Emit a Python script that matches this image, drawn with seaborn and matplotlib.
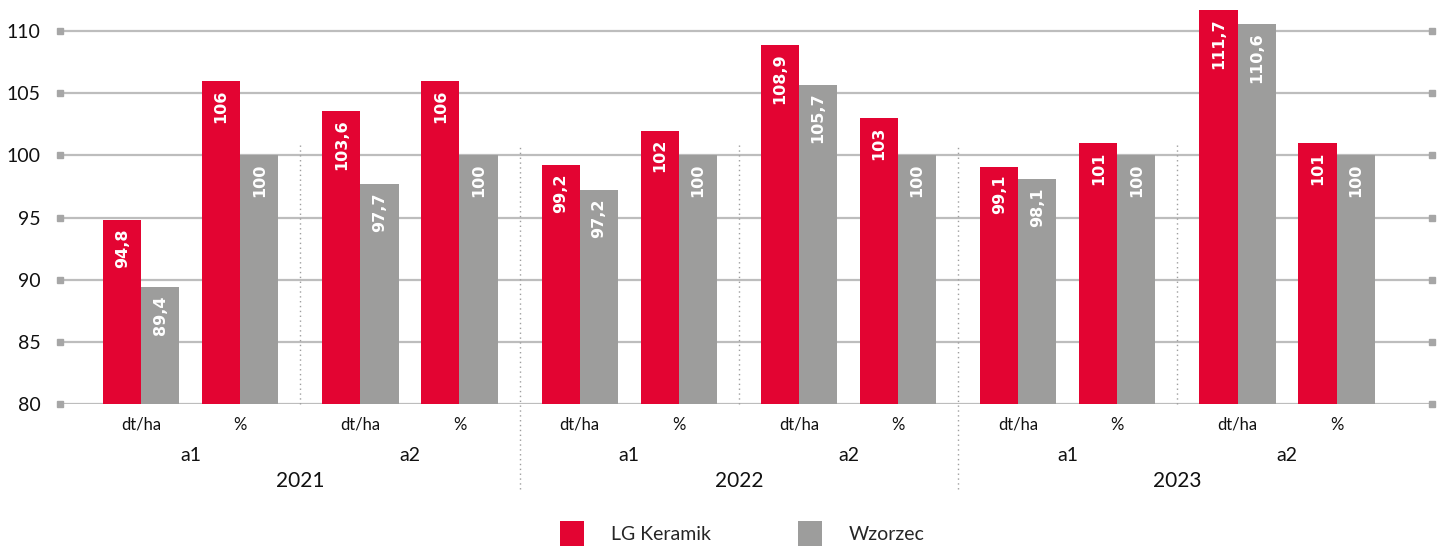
import numpy as np
import pandas as pd
import seaborn as sns
import matplotlib.pyplot as plt
import matplotlib.transforms as mtransforms
from matplotlib.patches import Patch

# dane
years = ['2021', '2022', '2023']
groups = ['a1', 'a2']
units = ['dt/ha', '%']
lg_keramik = [94.8, 106, 103.6, 106, 99.2, 102, 108.9, 103, 99.1, 101, 111.7, 101]
wzorzec = [89.4, 100, 97.7, 100, 97.2, 100, 105.7, 100, 98.1, 100, 110.6, 100]
series = ['LG Keramik', 'Wzorzec']
colors = ['#E30432', '#9D9D9C']

# pozycje kategorii (odstęp między parami a1/a2)
n = len(lg_keramik)
pos = np.array([i + 0.215 * (i // 2) for i in range(n)])

df = pd.DataFrame({
    'pos': np.concatenate([pos, pos]),
    'value': lg_keramik + wzorzec,
    'series': [series[0]] * n + [series[1]] * n,
})

sns.set_theme(style="white")
plt.rcParams['font.family'] = ['Lato', 'DejaVu Sans']

fig = plt.figure(figsize=(14.43, 5.5), dpi=100)
ax = fig.add_axes([0.0416, 0.2655, 0.9508, 0.7345])

sns.barplot(data=df, x='pos', y='value', hue='series', native_scale=True,
            palette=colors, width=0.77, saturation=1, legend=False,
            linewidth=0, edgecolor='none', ax=ax)

ax.set_ylim(80, 112.5)
ax.set_xlim(-0.82, 13.04)
ticks = list(range(80, 111, 5))
ax.set_yticks(ticks)
ax.set_yticklabels([str(t) for t in ticks], fontsize=14, color='#111111')
ax.tick_params(axis='y', length=0, pad=14)
ax.set_xticks([])
ax.set_xlabel('')
ax.set_ylabel('')
for s in ax.spines.values():
    s.set_visible(False)

# linie siatki z kwadratowymi znacznikami na końcach
for t in ticks:
    ax.axhline(t, color='#BDBDBD', lw=1.6, zorder=0)
ax.plot([ax.get_xlim()[0]] * len(ticks), ticks, 's', color='#A6A6A6', ms=5, clip_on=False, zorder=3)
ax.plot([ax.get_xlim()[1]] * len(ticks), ticks, 's', color='#A6A6A6', ms=5, clip_on=False, zorder=3)

# etykiety wartości w słupkach
for cont in ax.containers:
    for bar in cont:
        h = bar.get_height()
        lab = f"{h:g}".replace('.', ',')
        ax.annotate(lab, (bar.get_x() + bar.get_width() / 2, h), xytext=(0, -6),
                    textcoords='offset points', rotation=90, ha='center', va='top',
                    color='white', fontsize=11.5, fontweight='bold', family='DejaVu Sans')

# opisy osi X (trzy poziomy)
trans = mtransforms.blended_transform_factory(ax.transData, ax.transAxes)
for i, p in enumerate(pos):
    ax.text(p, -0.052, units[i % 2], transform=trans, ha='center', va='center',
            fontsize=12, color='#111111')
for k in range(n // 2):
    mid = (pos[2 * k] + pos[2 * k + 1]) / 2
    ax.text(mid, -0.128, groups[k % 2], transform=trans, ha='center', va='center',
            fontsize=14, color='#111111')
for k, y in enumerate(years):
    mid = (pos[4 * k] + pos[4 * k + 3]) / 2
    ax.text(mid, -0.19, y, transform=trans, ha='center', va='center',
            fontsize=15, color='#111111')

# kropkowane separatory
for k in range(n // 2 - 1):
    xs = (pos[2 * k + 1] + pos[2 * k + 2]) / 2
    y0 = -0.21 if k % 2 == 1 else 0.0
    ax.plot([xs, xs], [y0, 0.641], transform=trans, color='#9E9E9E', lw=1,
            ls=(0, (1, 2.5)), clip_on=False, zorder=1)

# legenda
handles = [Patch(facecolor=c, edgecolor='none') for c in colors]
fig.legend(handles, series, loc='lower center', bbox_to_anchor=(0.5145, -0.025), ncol=2,
           frameon=False, fontsize=14, handlelength=1.2, handleheight=1.6,
           handletextpad=1.4, columnspacing=4.5)

fig.savefig('out.png', dpi=100)
